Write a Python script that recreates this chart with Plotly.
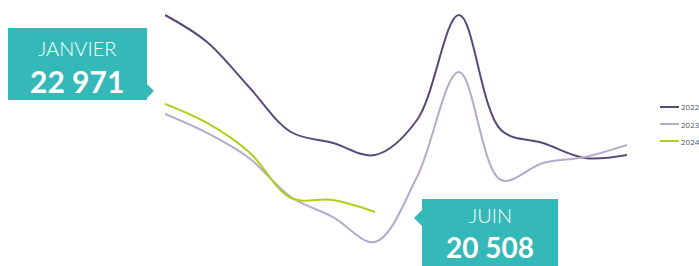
import plotly.graph_objects as go

W, H = 699, 266

months = ["Jan", "Fév", "Mar", "Avr", "Mai", "Juin", "Juil", "Août", "Sep", "Oct", "Nov", "Déc"]
v2022 = [25001, 24385, 23359, 22332, 22081, 21808, 22606, 25001, 22378, 22081, 21739, 21808]
v2023 = [22743, 22310, 21739, 20850, 20393, 19823, 21306, 23701, 21237, 21625, 21762, 22036]
v2024 = [22971, 22538, 21876, 20827, 20781, 20508]
series_names = ["2022", "2023", "2024"]

colors = {"2022": "#584a7a", "2023": "#b5aacd", "2024": "#b3cc1a"}
teal = "#35b8b8"


def px(x):
    return x / W


def py(y):
    return 1 - y / H


fig = go.Figure()
for name, vals in zip(series_names, [v2022, v2023, v2024]):
    fig.add_trace(go.Scatter(
        x=months[:len(vals)], y=vals, name=name, mode="lines",
        line=dict(color=colors[name], width=2, shape="spline", smoothing=1.0),
        hoverinfo="skip", showlegend=False,
    ))


def path(points):
    return "M " + " L ".join(f"{px(x):.5f},{py(y):.5f}" for x, y in points) + " Z"


# Callout box January (arrow pointing right)
box1 = [(8, 28), (147, 28), (147, 84), (154, 91), (147, 98), (147, 100), (8, 100)]
# Callout box June (arrow pointing left)
box2 = [(422, 199), (558, 199), (558, 270), (422, 270), (422, 226), (414, 218), (422, 210)]

shapes = [
    dict(type="path", path=path(box1), xref="paper", yref="paper",
         fillcolor=teal, line=dict(width=0), layer="above"),
    dict(type="path", path=path(box2), xref="paper", yref="paper",
         fillcolor=teal, line=dict(width=0), layer="above"),
]

annotations = [
    dict(text="JANVIER", x=px(77), y=py(62), xref="paper", yref="paper",
         showarrow=False, font=dict(family="Lato", size=20, color="white", weight=300),
         xanchor="center", yanchor="bottom"),
    dict(text="<b>22 971</b>", x=px(77), y=py(61), xref="paper", yref="paper",
         showarrow=False, font=dict(family="Lato", size=30, color="white"),
         xanchor="center", yanchor="top"),
    dict(text="JUIN", x=px(490), y=py(229), xref="paper", yref="paper",
         showarrow=False, font=dict(family="Lato", size=20, color="white", weight=300),
         xanchor="center", yanchor="bottom"),
    dict(text="<b>20 508</b>", x=px(490), y=py(228), xref="paper", yref="paper",
         showarrow=False, font=dict(family="Lato", size=28, color="white"),
         xanchor="center", yanchor="top"),
]

# Custom compact legend
legend_y = [107, 124, 141]
for name, ly in zip(series_names, legend_y):
    shapes.append(dict(type="line", xref="paper", yref="paper",
                       x0=px(660), x1=px(679), y0=py(ly), y1=py(ly),
                       line=dict(color=colors[name], width=2)))
    annotations.append(dict(text=name, x=px(679), y=py(ly), xref="paper", yref="paper",
                            showarrow=False, xanchor="left", yanchor="middle",
                            font=dict(family="Open Sans", size=8, color="#555555")))

fig.update_layout(
    width=W, height=H,
    margin=dict(l=0, r=0, t=0, b=0),
    paper_bgcolor="white", plot_bgcolor="white",
    xaxis=dict(domain=[px(165), px(627)], range=[0, 11], visible=False, fixedrange=True),
    yaxis=dict(range=[19276, 25343], visible=False, fixedrange=True),
    showlegend=False,
    shapes=shapes,
    annotations=annotations,
)

fig.write_html("out.html", config={"displayModeBar": False},
               post_script="document.body.style.margin='0';document.body.style.overflow='hidden';")
